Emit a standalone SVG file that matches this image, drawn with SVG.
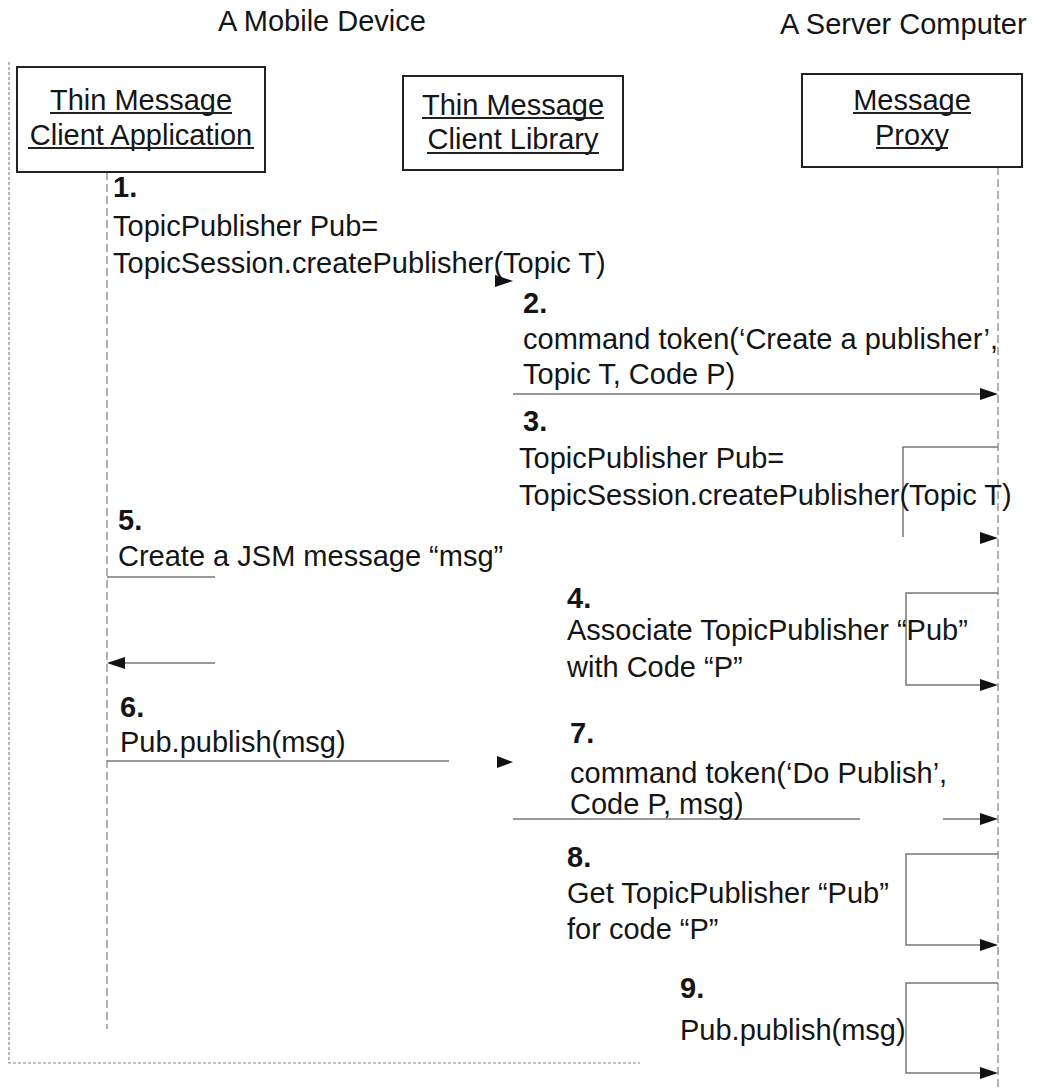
<svg xmlns="http://www.w3.org/2000/svg" width="1038" height="1091" viewBox="0 0 1038 1091">
<defs>
<style>
text{font-family:"Liberation Sans",Arial,sans-serif;font-size:29px;fill:#151515}
.b{font-weight:bold}
.box{fill:#fff;stroke:#222;stroke-width:2}
.ul{stroke:#222;stroke-width:2}
.life{stroke:#999;stroke-width:1.5;stroke-dasharray:8 4;fill:none}
.frame{stroke:#888;stroke-width:1.2;stroke-dasharray:3 2;fill:none}
.msg{stroke:#777;stroke-width:1.5;fill:none}
.ah{fill:#111}
</style>
</defs>
<rect width="1038" height="1091" fill="#fff"/>
<text x="218" y="31">A Mobile Device</text>
<text x="780" y="34">A Server Computer</text>
<g id="frame">
<path class="frame" d="M9 62V1063H640"/>
</g>
<g id="lifelines">
<line class="life" x1="107" y1="172" x2="107" y2="1029"/>
<line class="life" x1="998" y1="167" x2="998" y2="1091"/>
</g>
<g id="node-client-app">
<rect class="box" x="17" y="67" width="248" height="105"/>
<text x="141" y="110" text-anchor="middle">Thin Message</text>
<line class="ul" x1="50" y1="113" x2="232" y2="113"/>
<text x="141" y="145" text-anchor="middle">Client Application</text>
<line class="ul" x1="28" y1="148" x2="254" y2="148"/>
</g>
<g id="node-client-lib">
<rect class="box" x="403" y="76" width="220" height="94"/>
<text x="513" y="115" text-anchor="middle">Thin Message</text>
<line class="ul" x1="422" y1="118" x2="604" y2="118"/>
<text x="513" y="149" text-anchor="middle">Client Library</text>
<line class="ul" x1="427" y1="153" x2="599" y2="153"/>
</g>
<g id="node-proxy">
<rect class="box" x="802" y="74" width="220" height="93"/>
<text x="912" y="110" text-anchor="middle">Message</text>
<line class="ul" x1="853" y1="113" x2="971" y2="113"/>
<text x="912" y="145" text-anchor="middle">Proxy</text>
<line class="ul" x1="876" y1="148" x2="948" y2="148"/>
</g>
<g id="connectors">
<polygon class="ah" points="513,281 495,275 495,287"/>
<line class="msg" x1="513" y1="394" x2="982" y2="394"/>
<polygon class="ah" points="998,394 980,388 980,400"/>
<path class="msg" d="M998 447H903V537"/>
<polygon class="ah" points="998,538 980,532 980,544"/>
<path class="msg" d="M998 593H906V685H982"/>
<polygon class="ah" points="998,685 980,679 980,691"/>
<line class="msg" x1="107" y1="577" x2="215" y2="577"/>
<line class="msg" x1="123" y1="663" x2="215" y2="663"/>
<polygon class="ah" points="107,663 125,657 125,669"/>
<line class="msg" x1="107" y1="761" x2="449" y2="761"/>
<polygon class="ah" points="513,762 497,756 497,768"/>
<line class="msg" x1="513" y1="819" x2="860" y2="819"/>
<line class="msg" x1="943" y1="819" x2="982" y2="819"/>
<polygon class="ah" points="998,819 980,813 980,825"/>
<path class="msg" d="M998 854H906V945H982"/>
<polygon class="ah" points="998,945 980,939 980,951"/>
<path class="msg" d="M998 983H906V1073H982"/>
<polygon class="ah" points="998,1073 980,1067 980,1079"/>
</g>
<g id="labels">
<text class="b" x="113" y="197">1.</text>
<text x="113" y="236">TopicPublisher Pub=</text>
<text x="113" y="273">TopicSession.createPublisher(Topic T)</text>
<text class="b" x="523" y="313">2.</text>
<text x="523" y="349">command token(‘Create a publisher’,</text>
<text x="523" y="384">Topic T, Code P)</text>
<text class="b" x="523" y="431">3.</text>
<text x="519" y="468">TopicPublisher Pub=</text>
<text x="519" y="505">TopicSession.createPublisher(Topic T)</text>
<text class="b" x="567" y="608">4.</text>
<text x="567" y="640">Associate TopicPublisher “Pub”</text>
<text x="567" y="677">with Code “P”</text>
<text class="b" x="118" y="530">5.</text>
<text x="118" y="566">Create a JSM message “msg”</text>
<text class="b" x="120" y="717">6.</text>
<text x="120" y="752">Pub.publish(msg)</text>
<text class="b" x="570" y="743">7.</text>
<text x="570" y="783">command token(‘Do Publish’,</text>
<text x="570" y="814">Code P, msg)</text>
<text class="b" x="567" y="867">8.</text>
<text x="567" y="903">Get TopicPublisher “Pub”</text>
<text x="567" y="939">for code “P”</text>
<text class="b" x="680" y="998">9.</text>
<text x="680" y="1040">Pub.publish(msg)</text>
</g>
</svg>
